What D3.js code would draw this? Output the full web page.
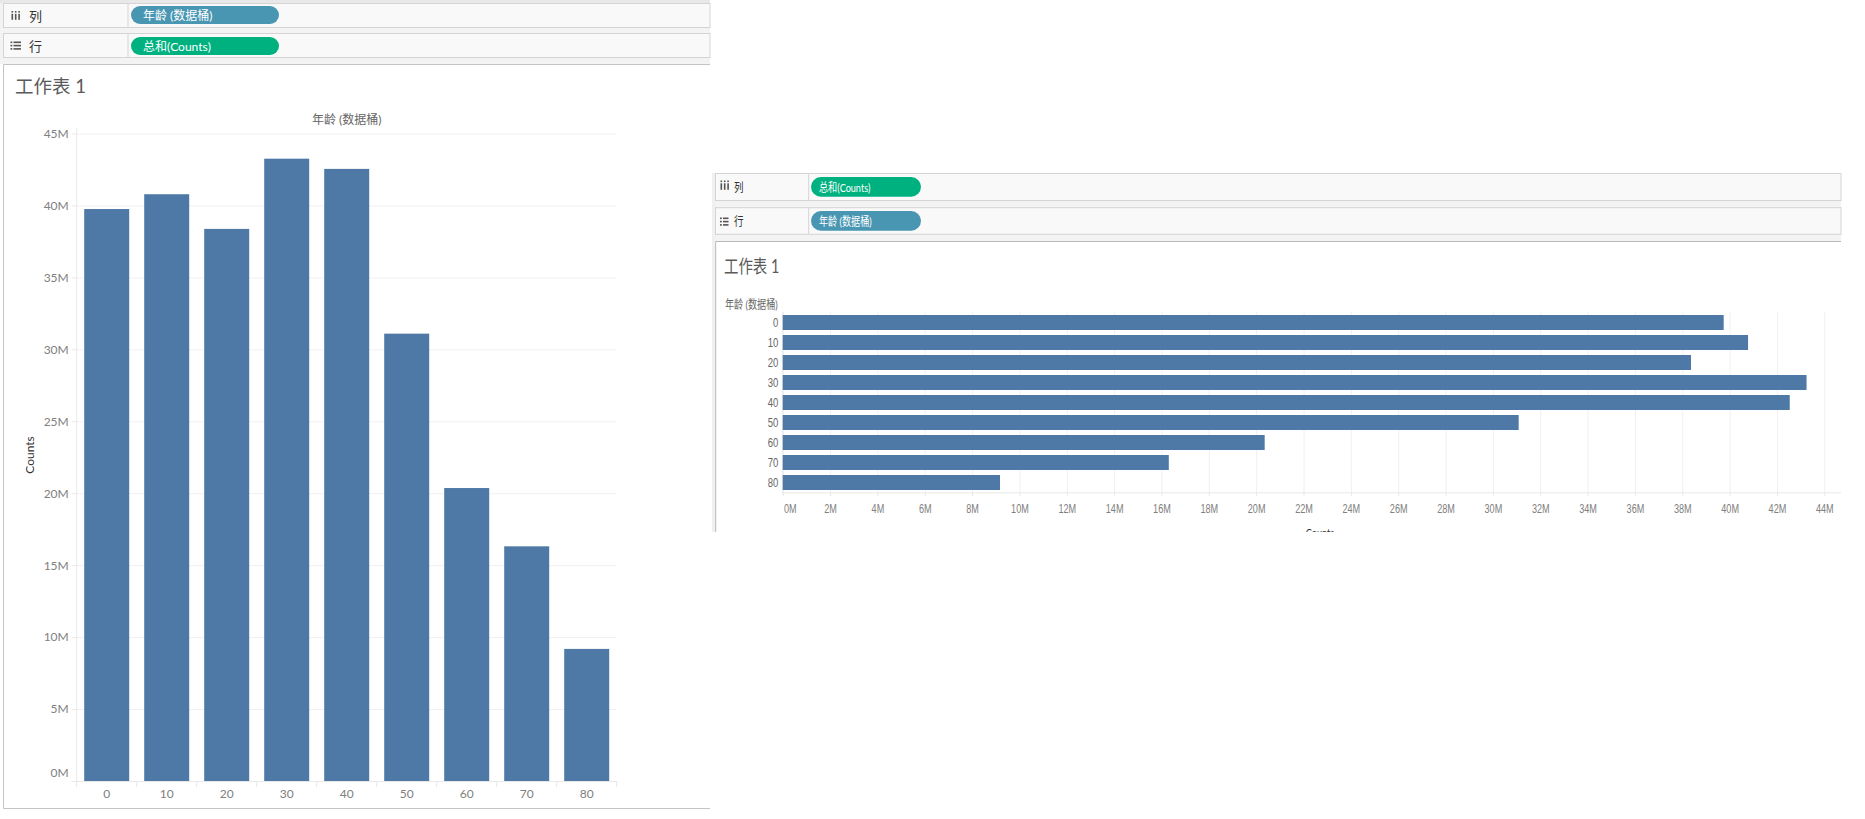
<!DOCTYPE html>
<html>
<head>
<meta charset="utf-8">
<script src="https://cdn.jsdelivr.net/npm/d3@7"></script>
<style>
  body { margin: 0; background: #fff; }
  svg { display: block; }
</style>
</head>
<body>
<script>
// age buckets (年龄 数据桶) and summed counts
let ageBuckets = ["0", "10", "20", "30", "40", "50", "60", "70", "80"];
let counts = [39750000, 40780000, 38370000, 43250000, 42540000, 31090000, 20360000, 16310000, 9180000];

// tick labels, in millions
let vTicks = [0, 5, 10, 15, 20, 25, 30, 35, 40, 45];
let hTicks = [0, 2, 4, 6, 8, 10, 12, 14, 16, 18, 20, 22, 24, 26, 28, 30, 32, 34, 36, 38, 40, 42, 44];

let width = 1865;
let height = 819;
let barColor = "#4e79a7";
let tealPill = "#4996b2";
let greenPill = "#00b180";
let tickGrey = "#808080";
let gridGrey = "#f0f0f0";
let squeeze = 0.76; // the right screenshot is narrower than the left one

let svg = d3.select("body").append("svg")
  .attr("width", width)
  .attr("height", height)
  .style("font-family", "Lato, 'Noto Sans CJK SC', sans-serif");

// text helper, sx < 1 squeezes the glyphs horizontally
function label(parent, x, y, str, size, color, anchor, sx) {
  return parent.append("text")
    .attr("transform", "translate(" + x + "," + y + ") scale(" + (sx || 1) + ",1)")
    .attr("text-anchor", anchor || "start")
    .attr("dominant-baseline", "central")
    .style("font-size", size + "px")
    .attr("fill", color)
    .text(str);
}

function colIcon(g, x, y, h) {
  for (let i = 0; i < 3; i++) {
    g.append("rect").attr("x", x + i * 3.4).attr("y", y).attr("width", 1.6).attr("height", 1.6).attr("fill", "#555");
    g.append("rect").attr("x", x + i * 3.4).attr("y", y + 2.8).attr("width", 1.6).attr("height", h).attr("fill", "#555");
  }
}
function rowIcon(g, x, y, w) {
  for (let i = 0; i < 3; i++) {
    g.append("rect").attr("x", x).attr("y", y + i * 3.3).attr("width", 1.8).attr("height", 1.6).attr("fill", "#555");
    g.append("rect").attr("x", x + 3).attr("y", y + i * 3.3).attr("width", w).attr("height", 1.6).attr("fill", "#555");
  }
}

// shelf row: box, divider, icon text, pill
function shelf(g, o) {
  g.append("rect").attr("x", o.x0).attr("y", o.y0).attr("width", o.x1 - o.x0).attr("height", o.y1 - o.y0)
    .attr("fill", "#f9f9f9").attr("stroke", "#d4d4d4");
  g.append("line").attr("x1", o.div).attr("x2", o.div).attr("y1", o.y0).attr("y2", o.y1).attr("stroke", "#d4d4d4");
  g.append("rect").attr("x", o.px).attr("y", o.py).attr("width", o.pw).attr("height", o.ph)
    .attr("rx", o.ph / 2).attr("fill", o.color);
  label(g, o.tx, o.py + o.ph / 2, o.pill, 12, "#fff", "start", o.sx);
  label(g, o.lx, (o.y0 + o.y1) / 2, o.name, o.nameSize, "#333", "start", o.sx);
}

// ================= left screenshot (vertical bars) =================
let left = svg.append("g");
left.append("rect").attr("x", 0).attr("y", 0).attr("width", 710).attr("height", 64).attr("fill", "#f3f3f3");
left.append("rect").attr("x", 0).attr("y", 0).attr("width", 710).attr("height", 3).attr("fill", "#e8e8e8");

shelf(left, { x0: 3.5, x1: 710, y0: 3.5, y1: 27.5, div: 128, px: 131, py: 6, pw: 148, ph: 18,
  color: tealPill, pill: "年龄 (数据桶)", tx: 143, lx: 29, name: "列", nameSize: 13 });
colIcon(left, 11.5, 11, 6);
shelf(left, { x0: 3.5, x1: 710, y0: 33.5, y1: 57.5, div: 128, px: 131, py: 37, pw: 148, ph: 18,
  color: greenPill, pill: "总和(Counts)", tx: 143, lx: 29, name: "行", nameSize: 13 });
rowIcon(left, 10.5, 41.5, 7.5);

// worksheet pane
left.append("rect").attr("x", 3.5).attr("y", 64.5).attr("width", 706.5).attr("height", 744).attr("fill", "#fff");
left.append("path").attr("d", "M710,64.5H3.5V808.5H710").attr("fill", "none").attr("stroke", "#c4c4c4");
label(left, 15, 86, "工作表 1", 18.5, "#5a5a5a");

let xL = d3.scaleBand().domain(ageBuckets).range([76.7, 616.7]).paddingInner(0.25).paddingOuter(0.125);
let yL = d3.scaleLinear().domain([0, 45e6]).range([781, 133.5]);

label(left, (xL.range()[0] + xL.range()[1]) / 2, 119, "年龄 (数据桶)", 12, "#666", "middle");

// gridlines
left.append("g")
  .attr("transform", "translate(76.7,0)")
  .call(d3.axisLeft(yL).tickValues(vTicks.map(d => d * 1e6)).tickSize(-540).tickFormat(""))
  .call(g => g.select(".domain").remove())
  .selectAll("line").attr("stroke", gridGrey);

left.append("line").attr("x1", 76.7).attr("x2", 76.7).attr("y1", 128).attr("y2", 781).attr("stroke", "#e8e8e8");

left.selectAll(".bar")
  .data(counts)
  .enter().append("rect")
    .attr("class", "bar")
    .attr("x", (d, i) => xL(ageBuckets[i]))
    .attr("width", xL.bandwidth())
    .attr("y", d => yL(d))
    .attr("height", d => yL(0) - yL(d))
    .attr("fill", barColor);

let gyL = left.append("g")
  .attr("transform", "translate(76.7,0)")
  .call(d3.axisLeft(yL).tickValues(vTicks.map(d => d * 1e6)).tickSize(5).tickPadding(3)
    .tickFormat(d => d / 1e6 + "M"));
gyL.select(".domain").remove();
gyL.selectAll("line").attr("stroke", "#e8e8e8");
gyL.selectAll("text").attr("fill", tickGrey).style("font-size", "12px").style("font-family", "Lato, sans-serif");
gyL.selectAll("text").filter(d => d === 0).attr("y", -8);

let gxL = left.append("g")
  .attr("transform", "translate(0,781)")
  .call(d3.axisBottom(xL).tickSize(0).tickPadding(8));
gxL.select(".domain").attr("stroke", "#e8e8e8");
gxL.selectAll("text").attr("fill", tickGrey).style("font-size", "12px").style("font-family", "Lato, sans-serif");

// separators between buckets below the baseline
let padL = (xL.step() - xL.bandwidth()) / 2;
let bounds = ageBuckets.map(d => xL(d) - padL).concat([xL.range()[1]]);
left.selectAll(".sep").data(bounds).enter().append("line")
  .attr("x1", d => d).attr("x2", d => d).attr("y1", 781).attr("y2", 787)
  .attr("stroke", "#e8e8e8");

left.append("text")
  .attr("transform", "translate(29,455) rotate(-90)")
  .attr("text-anchor", "middle")
  .attr("dominant-baseline", "central")
  .style("font-size", "12px")
  .attr("fill", "#333")
  .text("Counts");

// ================= right screenshot (horizontal bars) =================
svg.append("clipPath").attr("id", "cutR")
  .append("rect").attr("x", 700).attr("y", 160).attr("width", 1165).attr("height", 372);
let right = svg.append("g").attr("clip-path", "url(#cutR)");

right.append("rect").attr("x", 712).attr("y", 173).attr("width", 1129).attr("height", 68).attr("fill", "#f3f3f3");
right.append("rect").attr("x", 712).attr("y", 173).attr("width", 3.7).attr("height", 360).attr("fill", "#f0f0f0");

shelf(right, { x0: 715.5, x1: 1841, y0: 173.5, y1: 200.5, div: 808.7, px: 811, py: 177, pw: 110, ph: 19.7,
  color: greenPill, pill: "总和(Counts)", tx: 819, lx: 734, name: "列", nameSize: 12.5, sx: squeeze });
colIcon(right, 720.5, 180.5, 6.5);
shelf(right, { x0: 715.5, x1: 1841, y0: 207.7, y1: 234.3, div: 808.7, px: 811, py: 211, pw: 110, ph: 19.7,
  color: tealPill, pill: "年龄 (数据桶)", tx: 819, lx: 734, name: "行", nameSize: 12.5, sx: squeeze });
rowIcon(right, 720, 217.5, 5.5);

right.append("rect").attr("x", 715.7).attr("y", 241.3).attr("width", 1126).attr("height", 300).attr("fill", "#fff");
right.append("path").attr("d", "M1841,241.5H715.7V540").attr("fill", "none").attr("stroke", "#b8b8b8");
label(right, 724, 266, "工作表 1", 18.5, "#5a5a5a", "start", 0.78);
label(right, 725, 304, "年龄 (数据桶)", 12, "#666", "start", squeeze);

let xR = d3.scaleLinear().domain([0, 44e6]).range([782.7, 1824.3]);
let yR = d3.scaleBand().domain(ageBuckets).range([312.5, 492.5]).paddingInner(0.25).paddingOuter(0.125);

right.append("g")
  .attr("transform", "translate(0,492.3)")
  .call(d3.axisBottom(xR).tickValues(hTicks.map(d => d * 1e6)).tickSize(-180.6).tickFormat(""))
  .call(g => g.select(".domain").remove())
  .selectAll("line").attr("stroke", gridGrey);

right.append("line").attr("x1", 782.7).attr("x2", 782.7).attr("y1", 311.7).attr("y2", 494).attr("stroke", "#e8e8e8");

right.selectAll(".bar")
  .data(counts)
  .enter().append("rect")
    .attr("class", "bar")
    .attr("x", xR(0))
    .attr("y", (d, i) => yR(ageBuckets[i]))
    .attr("height", yR.bandwidth())
    .attr("width", d => xR(d) - xR(0))
    .attr("fill", barColor);

let gxR = right.append("g")
  .attr("transform", "translate(0,492.3)")
  .call(d3.axisBottom(xR).tickValues(hTicks.map(d => d * 1e6)).tickSize(4).tickPadding(8).tickSizeOuter(0)
    .tickFormat(d => d / 1e6 + "M"));
gxR.select(".domain").attr("d", "M782.7,0.5H1841").attr("stroke", "#e8e8e8");
gxR.selectAll("line").attr("stroke", "#e8e8e8");
gxR.selectAll("text").attr("fill", tickGrey).style("font-size", "12px")
  .attr("transform", "scale(" + squeeze + ",1)");
gxR.selectAll("text").filter(d => d === 0).attr("text-anchor", "start").attr("x", 1);

let gyR = right.append("g")
  .attr("transform", "translate(782.7,0)")
  .call(d3.axisLeft(yR).tickSize(0).tickPadding(4.4 / squeeze));
gyR.select(".domain").remove();
gyR.selectAll("text").attr("fill", "#666").style("font-size", "12.5px")
  .attr("transform", "scale(" + squeeze + ",1)");

label(right, 1320, 532, "Counts", 12, "#333", "middle", squeeze);
</script>
</body>
</html>
